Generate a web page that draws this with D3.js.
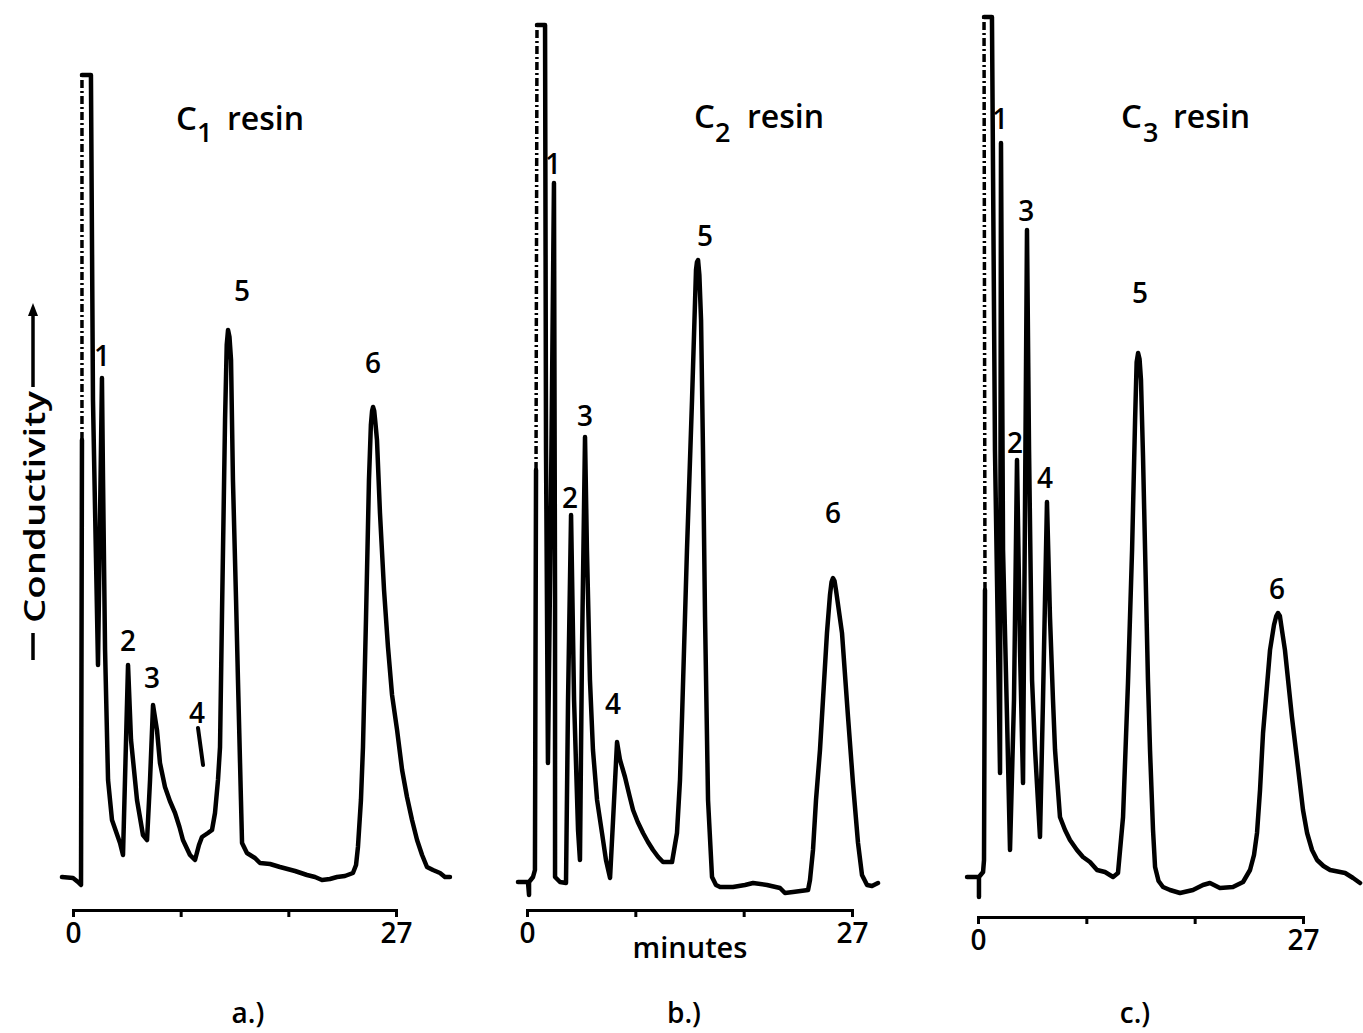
<!DOCTYPE html>
<html><head><meta charset="utf-8">
<script src="https://cdn.jsdelivr.net/npm/d3@7"></script>
<style>
body{margin:0;background:#fff}
svg{display:block}
text{font-family:"Open Sans",sans-serif;font-weight:600;fill:#000}
</style>
</head><body><svg id="chart" width="1363" height="1033"></svg>
<script>
// ---- data (minutes, relative conductivity) ----
const tickValues = [0, 9, 18, 27];
const tickLabels = {0: "0", 27: "27"};
const panelLetters = ["a.)", "b.)", "c.)"];
const resinSubscripts = ["1", "2", "3"];
const yLabel = "Conductivity";
const xLabel = "minutes";

// solid pen trace (null = pen break where the fast up-stroke is dotted)
const traceA = [[-0.92,0.8],[0,0.7],[0.42,0.3],[0.67,0],[0.75,44.5],null,[0.75,81],[1.5,81],[1.67,48.5],[2.09,22],[2.42,50.7],[2.51,40.5],[2.68,23.5],[2.93,10.5],[3.26,6.5],[3.93,4.2],[4.18,3.0],[4.60,22.0],[4.85,14.5],[5.35,8.5],[5.85,5.0],[6.19,4.5],[6.44,10.5],[6.69,18.0],[7.02,15.5],[7.27,12.2],[7.69,9.8],[8.10,8.4],[8.53,7.2],[8.90,5.8],[9.19,4.5],[9.78,3.0],[10.20,2.5],[10.53,4.0],[10.78,4.8],[11.28,5.2],[11.62,5.5],[11.87,7.2],[12.12,10.5],[12.29,13.8],[12.46,27.5],[12.71,46.5],[12.85,54.0],[12.96,55.5],[13.08,54.8],[13.21,52.5],[13.37,40.5],[13.63,28.5],[13.79,20.5],[14.04,8.5],[14.13,4.2],[14.54,3.2],[15.21,2.7],[15.63,2.2],[16.47,2.1],[17.30,1.8],[18.56,1.4],[19.56,1.0],[20.23,0.8],[20.81,0.5],[21.48,0.6],[22.07,0.8],[22.73,0.9],[23.40,1.2],[23.66,2.0],[23.82,3.8],[24.07,8.5],[24.24,13.8],[24.49,26.5],[24.74,40.5],[24.90,46.0],[25.00,47.4],[25.08,47.8],[25.18,47.4],[25.28,46.2],[25.41,44.5],[25.66,37.2],[26.00,29.5],[26.33,23.8],[26.67,19.0],[27.09,15.5],[27.51,11.5],[27.92,8.8],[28.34,6.5],[28.76,4.5],[29.18,3.0],[29.59,1.8],[30.09,1.5],[30.68,1.2],[31.09,0.8],[31.51,0.8]];
const dottedA = [[0.75,44.5],[0.75,81]];
const markA = [[10.45,15.7],[10.87,12.0]];
const labelsA = [["1",2.42,53.0],["2",4.60,24.5],["3",6.60,20.8],["4",10.37,17.3],["5",14.13,59.5],["6",25.08,52.3]];

const traceB = [[-0.75,0.3],[0.08,0.3],[0.17,-1.0],[0.17,0.3],[0.50,0.8],[0.66,1.5],[0.75,41.5],null,[0.83,86.0],[1.50,86.0],[1.58,43.5],[1.74,12.2],[1.99,38.5],[2.24,70.2],[2.33,28.5],[2.33,0.8],[2.74,0.3],[3.24,0.2],[3.41,18.5],[3.66,37.0],[3.91,18.5],[4.24,5.5],[4.40,2.5],[4.57,23.5],[4.82,44.8],[4.98,33.5],[5.23,20.5],[5.48,13.5],[5.82,8.5],[6.23,5.2],[6.56,2.5],[6.90,0.7],[7.15,6.5],[7.48,14.3],[7.73,12.5],[8.14,10.8],[8.50,9.0],[8.81,7.5],[9.20,6.3],[9.64,5.2],[10.05,4.3],[10.47,3.5],[10.90,2.8],[11.30,2.3],[12.05,2.3],[12.46,5.2],[12.71,10.5],[12.88,16.8],[13.29,33.5],[13.71,48.5],[14.04,61.5],[14.12,62.3],[14.21,62.5],[14.32,61.0],[14.46,56.5],[14.62,43.5],[14.79,26.8],[15.04,8.5],[15.37,0.8],[15.70,0.0],[16.04,-0.2],[17.11,-0.2],[18.11,0.0],[18.78,0.2],[19.94,0.0],[21.02,-0.3],[21.43,-0.8],[22.10,-0.7],[23.35,-0.5],[23.51,0.5],[23.76,3.5],[24.01,8.5],[24.34,13.5],[24.92,25.2],[25.17,29.0],[25.30,30.3],[25.42,30.7],[25.55,30.4],[25.67,29.5],[26.17,25.2],[26.67,16.8],[27.08,10.2],[27.50,4.2],[27.83,1.0],[28.25,0.0],[28.66,-0.1],[29.16,0.2]];
const dottedB = [[0.75,41.5],[0.83,86.0]];
const labelsB = [["1",2.16,72.2],["2",3.57,38.8],["3",4.82,47.0],["4",7.14,18.2],["5",14.79,65.0],["6",25.42,37.3]];

const traceC = [[-0.91,0.8],[0.08,0.8],[0.08,-1.2],[0.08,0.8],[0.42,1.3],[0.50,2.5],[0.58,29.5],null,[0.50,86.8],[1.16,86.8],[1.41,43.5],[1.83,11.2],[1.91,74.2],[2.08,33.5],[2.41,16.8],[2.66,3.5],[2.99,18.5],[3.24,42.5],[3.49,23.5],[3.74,10.2],[3.91,38.5],[4.07,65.5],[4.24,43.5],[4.49,20.5],[4.74,13.5],[5.15,4.8],[5.40,18.5],[5.73,38.3],[5.98,26.8],[6.23,18.5],[6.40,13.5],[6.81,6.8],[7.23,5.5],[7.64,4.5],[8.22,3.5],[8.72,2.8],[9.30,2.3],[9.89,1.5],[10.55,1.3],[11.22,0.8],[11.63,1.2],[12.05,6.8],[12.46,20.2],[12.80,33.5],[13.05,46.5],[13.18,52.3],[13.30,53.2],[13.42,52.6],[13.54,50.5],[13.71,42.8],[13.88,33.5],[14.12,20.5],[14.29,13.5],[14.54,5.5],[14.71,1.8],[15.00,0.4],[15.37,-0.2],[15.95,-0.5],[16.78,-0.8],[17.86,-0.5],[18.69,0.0],[19.27,0.2],[20.10,-0.3],[21.18,-0.2],[22.02,0.3],[22.60,1.5],[22.93,3.0],[23.18,5.2],[23.43,9.5],[23.68,15.2],[24.26,23.5],[24.59,26.0],[24.78,26.9],[24.92,27.2],[25.08,26.9],[25.25,25.5],[25.50,23.5],[26.08,16.8],[26.58,11.8],[27.00,7.5],[27.34,5.2],[27.75,3.5],[28.17,2.5],[28.70,1.9],[29.25,1.5],[30.50,1.2],[31.16,0.7],[31.74,0.2]];
const dottedC = [[0.58,29.5],[0.50,86.8]];
const labelsC = [["1",1.83,76.7],["2",3.07,44.3],["3",4.00,67.5],["4",5.57,40.8],["5",13.46,59.3],["6",24.84,29.7]];

// ---- layout ----
const svg = d3.select("#chart");
const y = d3.scaleLinear().domain([0, 87]).range([885, 15]);
const panels = [
  {x0:73, x1:396, axisY:910, trace:traceA, dotted:dottedA, mark:markA, labels:labelsA,
   title:{c:176, sub:197, resin:227, base:130, subBase:142}, letterX:248},
  {x0:527, x1:852, axisY:910, trace:traceB, dotted:dottedB, mark:null, labels:labelsB,
   title:{c:694, sub:715, resin:747, base:128, subBase:142}, letterX:684},
  {x0:978, x1:1303, axisY:917, trace:traceC, dotted:dottedC, mark:null, labels:labelsC,
   title:{c:1121, sub:1143, resin:1173, base:128, subBase:142}, letterX:1135}
];

panels.forEach((p, i) => {
  const x = d3.scaleLinear().domain([0, 27]).range([p.x0, p.x1]);
  const line = d3.line().defined(d => d != null)
    .x(d => x(d[0])).y(d => y(d[1]))
    .curve(d3.curveLinear);
  const g = svg.append("g");

  g.append("path").attr("d", line(p.dotted))
    .attr("fill","none").attr("stroke","#000").attr("stroke-width",3.5)
    .attr("stroke-dasharray","8,3,2,3");
  g.append("path").attr("d", line(p.trace))
    .attr("fill","none").attr("stroke","#000").attr("stroke-width",4.5)
    .attr("stroke-linejoin","round").attr("stroke-linecap","round");
  if (p.mark) {
    g.append("path").attr("d", line(p.mark))
      .attr("fill","none").attr("stroke","#000").attr("stroke-width",4).attr("stroke-linecap","round");
  }
  g.selectAll("text.pk").data(p.labels).join("text").attr("class","pk")
    .attr("x", d => x(d[1])).attr("y", d => y(d[2]))
    .attr("text-anchor","middle").attr("dominant-baseline","central")
    .attr("font-size",28).text(d => d[0]);

  // axis
  const ax = g.append("g").attr("transform",`translate(0,${p.axisY})`)
    .call(d3.axisBottom(x).tickValues(tickValues).tickSize(7).tickSizeOuter(7).tickPadding(6)
      .tickFormat(d => tickLabels[d] || ""));
  ax.select(".domain").attr("stroke-width",3);
  ax.selectAll(".tick line").attr("stroke-width",3);
  ax.selectAll(".tick text").attr("font-size",28).attr("font-family","'Open Sans',sans-serif")
    .attr("font-weight",600).attr("fill","#000");

  // title
  const t = p.title;
  g.append("text").attr("x",t.c).attr("y",t.base).attr("font-size",33).text("C");
  g.append("text").attr("x",t.sub).attr("y",t.subBase).attr("font-size",27).text(resinSubscripts[i]);
  g.append("text").attr("x",t.resin).attr("y",t.base).attr("font-size",32).text("resin");

  g.append("text").attr("x",p.letterX).attr("y",1023).attr("text-anchor","middle")
    .attr("font-size",28).text(panelLetters[i]);
});

// x label
svg.append("text").attr("x",690).attr("y",958).attr("text-anchor","middle")
  .attr("font-size",29).text(xLabel);

// y label with arrow
svg.append("text").attr("transform","translate(33,507) rotate(-90)")
  .attr("text-anchor","middle").attr("dominant-baseline","central")
  .attr("font-size",29).attr("textLength",232).attr("lengthAdjust","spacingAndGlyphs").text(yLabel);
svg.append("line").attr("x1",33).attr("x2",33).attr("y1",387).attr("y2",312)
  .attr("stroke","#000").attr("stroke-width",3.5);
svg.append("path").attr("d","M33,303 L28,316 L38,316 Z").attr("fill","#000");
svg.append("line").attr("x1",33).attr("x2",33).attr("y1",633).attr("y2",660)
  .attr("stroke","#000").attr("stroke-width",3.5);
</script>
</body></html>
